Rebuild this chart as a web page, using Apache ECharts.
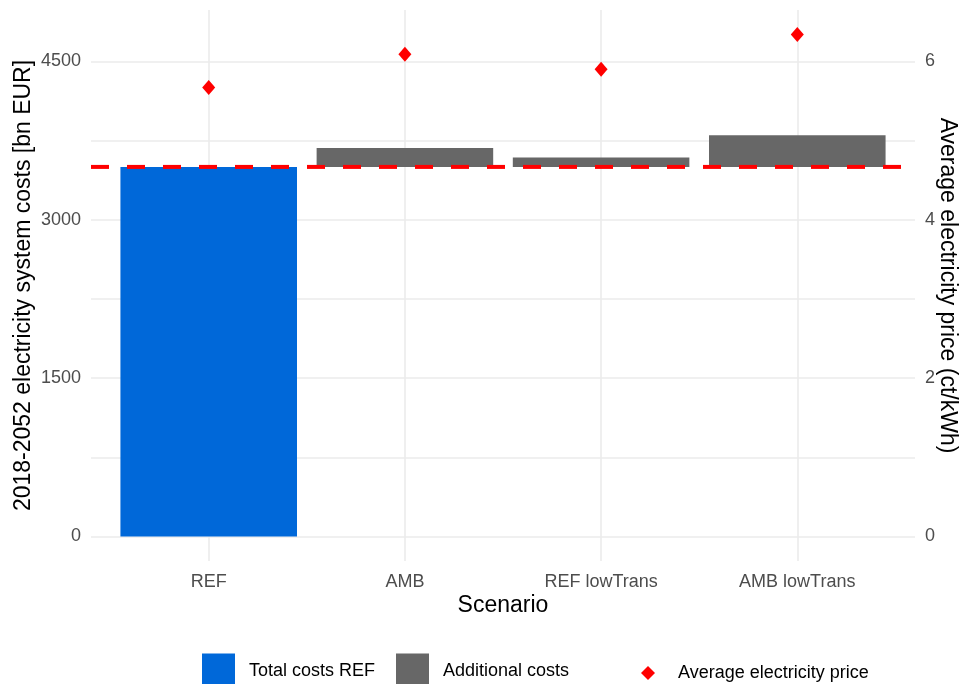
<!DOCTYPE html>
<html><head><meta charset="utf-8">
<script src="https://cdn.jsdelivr.net/npm/echarts@6/dist/echarts.min.js"></script>
<style>html,body{margin:0;padding:0;background:#fff}#c{width:960px;height:684px}</style>
</head><body><div id="c"></div>
<script>
// ---- data ----
const categories = ['REF', 'AMB', 'REF lowTrans', 'AMB lowTrans'];
const refTotal = 3500;                              // total costs of REF (bn EUR)
const totalCosts = [3500, 3680, 3590, 3800];        // bn EUR
const avgPrice = [5.67, 6.09, 5.90, 6.34];          // ct/kWh
const leftTickLabels = [0, 1500, 3000, 4500];
const leftGridValues = [0, 750, 1500, 2250, 3000, 3750, 4500];
const rightTickLabels = [0, 2, 4, 6];
const xPositions = [1, 2, 3, 4];

// ---- layout ----
const yMin = -232, yMax = 4986, ratio = 750;
const xMin = 0.4, xMax = 4.6;
const FONT = 'Liberation Sans, Arial, Helvetica, sans-serif';

const blueData = [[xPositions[0], 0, totalCosts[0]]];
const grayData = totalCosts.slice(1).map((v, i) => [xPositions[i + 1], refTotal, v]);
const priceData = avgPrice.map((v, i) => [xPositions[i], v]);

function barRender(params, api) {
  const x = api.value(0), lo = api.value(1), hi = api.value(2);
  const p1 = api.coord([x - 0.45, hi]);
  const p2 = api.coord([x + 0.45, lo]);
  return {
    type: 'rect',
    shape: { x: p1[0], y: p1[1], width: p2[0] - p1[0], height: p2[1] - p1[1] },
    style: api.style()
  };
}

const chart = echarts.init(document.getElementById('c'), null, { renderer: 'canvas' });
const gridLine = { show: true, lineStyle: { color: '#EBEBEB', width: 1.6 } };

chart.setOption({
  animation: false,
  backgroundColor: '#ffffff',
  textStyle: { fontFamily: FONT },
  grid: { left: 91, top: 10, width: 824, height: 551, containLabel: false, outerBoundsMode: 'none' },
  xAxis: {
    type: 'value', min: xMin, max: xMax,
    name: 'Scenario', nameLocation: 'middle', nameGap: 33, nameMoveOverlap: false,
    nameTextStyle: { fontSize: 23, color: '#000', fontFamily: FONT },
    axisLine: { show: false, onZero: false },
    axisTick: { show: false, customValues: xPositions },
    axisLabel: { customValues: xPositions, margin: 12, fontSize: 18, color: '#4D4D4D', fontFamily: FONT,
      formatter: v => categories[Math.round(v) - 1] },
    splitLine: gridLine
  },
  yAxis: [{
    type: 'value', min: yMin, max: yMax,
    name: '2018-2052 electricity system costs [bn EUR]', nameLocation: 'middle', nameGap: 56, nameMoveOverlap: false,
    nameTextStyle: { fontSize: 23, color: '#000', fontFamily: FONT },
    axisLine: { show: false, onZero: false },
    axisTick: { show: false, customValues: leftGridValues },
    axisLabel: { customValues: leftTickLabels, margin: 10, fontSize: 18, color: '#4D4D4D', fontFamily: FONT,
      formatter: v => String(v) },
    splitLine: gridLine
  }, {
    type: 'value', min: yMin / ratio, max: yMax / ratio, position: 'right',
    name: 'Average electricity price (ct/kWh)', nameLocation: 'middle', nameGap: 21, nameRotate: -90, nameMoveOverlap: false,
    nameTextStyle: { fontSize: 23, color: '#000', fontFamily: FONT },
    axisLine: { show: false, onZero: false },
    axisTick: { show: false, customValues: rightTickLabels },
    axisLabel: { customValues: rightTickLabels, margin: 10, fontSize: 18, color: '#4D4D4D', fontFamily: FONT,
      formatter: v => String(v) },
    splitLine: { show: false }
  }],
  legend: [{
    left: 202, top: 653.5, padding: 0, itemWidth: 33, itemHeight: 35,
    data: [{ name: 'Total costs REF', icon: 'rect' }],
    textStyle: { fontSize: 18, color: '#000', fontFamily: FONT, padding: [0, 0, 0, 9] },
    selectedMode: false
  }, {
    left: 396, top: 653.5, padding: 0, itemWidth: 33, itemHeight: 35,
    data: [{ name: 'Additional costs', icon: 'rect' }],
    textStyle: { fontSize: 18, color: '#000', fontFamily: FONT, padding: [0, 0, 0, 9] },
    selectedMode: false
  }, {
    left: 641, top: 664, padding: 0, itemWidth: 14, itemHeight: 14,
    data: [{ name: 'Average electricity price', icon: 'diamond', itemStyle: { color: '#FF0000', opacity: 1 } }],
    textStyle: { fontSize: 18, color: '#000', fontFamily: FONT, padding: [0, 0, 0, 18] },
    selectedMode: false
  }],
  series: [{
    name: 'Total costs REF', type: 'custom', renderItem: barRender,
    encode: { x: 0, y: [1, 2] }, data: blueData,
    itemStyle: { color: '#0068D9' }, z: 2
  }, {
    name: 'Additional costs', type: 'custom', renderItem: barRender,
    encode: { x: 0, y: [1, 2] }, data: grayData,
    itemStyle: { color: '#676767' }, z: 2
  }, {
    name: 'refline', type: 'line', data: [[xMin, refTotal], [xMax, refTotal]],
    symbol: 'none', silent: true,
    lineStyle: { color: '#FF0000', width: 4, type: [18, 18] }, z: 3
  }, {
    name: 'Average electricity price', type: 'scatter', yAxisIndex: 1,
    data: priceData, symbol: 'diamond', symbolSize: [13, 15],
    itemStyle: { color: '#FF0000', opacity: 1 }, z: 4
  }]
});
</script></body></html>
